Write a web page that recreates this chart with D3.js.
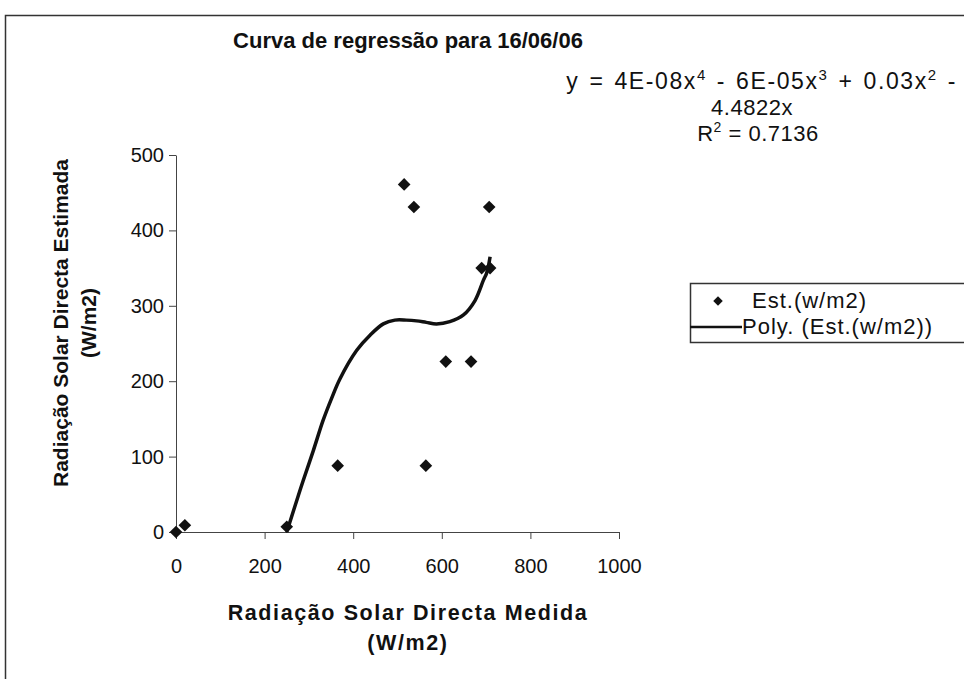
<!DOCTYPE html>
<html>
<head>
<meta charset="utf-8">
<script src="https://cdn.jsdelivr.net/npm/d3@7"></script>
<style>
  body { margin: 0; background: #fff; }
  text { font-family: "Liberation Sans", Arial, sans-serif; fill: #111; }
</style>
</head>
<body>
<div id="chart"></div>
<script>
// Curva de regressão - pontos medidos vs estimados
var medida = [0, 20, 250, 365, 515, 537, 564, 609, 666, 690, 707, 709];
var estimada = [0, 9, 7, 88, 461, 431, 88, 226, 226, 350, 431, 350];

// trendline
var polyX = [250, 257, 276, 287, 310, 332, 351, 370, 408, 438, 468, 494, 520, 543, 565, 588, 618, 649, 675, 694, 701, 705, 709];
var polyY = [0, 13, 48, 68, 108, 148, 177, 203, 241, 261, 276, 281, 281, 280, 278, 276, 279, 288, 307, 334, 343, 352, 365];

var xTicks = [0, 200, 400, 600, 800, 1000];
var yTicks = [0, 100, 200, 300, 400, 500];

var titulo = "Curva de regressão para 16/06/06";
var legendaNomes = ["Est.(w/m2)", "Poly. (Est.(w/m2))"];

var width = 964, height = 679;

var svg = d3.select("#chart")
    .append("svg")
    .attr("width", width)
    .attr("height", height);

svg.append("rect")
    .attr("x", 0).attr("y", 0)
    .attr("width", width).attr("height", height)
    .attr("fill", "#fff");

// moldura
svg.append("rect")
    .attr("x", 5.5).attr("y", 15.5)
    .attr("width", 1000).attr("height", 700)
    .attr("fill", "none")
    .attr("stroke", "#333")
    .attr("stroke-width", 1.5);

var x = d3.scaleLinear().domain([0, 1000]).range([176, 619]);
var y = d3.scaleLinear().domain([0, 500]).range([532, 155]);

var xAxis = svg.append("g")
    .attr("transform", "translate(0," + y(0) + ")")
    .call(d3.axisBottom(x).tickValues(xTicks).tickFormat(d3.format("d"))
        .tickSize(7).tickPadding(20).tickSizeOuter(0));

var yAxis = svg.append("g")
    .attr("transform", "translate(" + x(0) + ",0)")
    .call(d3.axisLeft(y).tickValues(yTicks).tickSize(7).tickPadding(5).tickSizeOuter(0));

svg.selectAll(".domain, .tick line")
    .attr("stroke", "#444")
    .attr("stroke-width", 1);
svg.selectAll(".tick text")
    .attr("font-size", "20px")
    .attr("font-family", "'Liberation Sans', Arial, sans-serif")
    .attr("fill", "#111");

// titulo
svg.append("text")
    .attr("x", 408)
    .attr("y", 48)
    .attr("font-size", "22px")
    .attr("font-weight", "bold")
    .style("text-anchor", "middle")
    .text(titulo);

// titulo eixo x
var xt = svg.append("text")
    .attr("font-size", "21.5px")
    .attr("font-weight", "bold")
    .attr("letter-spacing", "1.6px")
    .style("text-anchor", "middle");
xt.append("tspan").attr("x", 408).attr("y", 620).text("Radiação Solar Directa Medida");
xt.append("tspan").attr("x", 408).attr("y", 650).text("(W/m2)");

// titulo eixo y
var yt = svg.append("text")
    .attr("transform", "translate(68,323) rotate(-90)")
    .attr("font-size", "21px")
    .attr("font-weight", "bold")
    .style("text-anchor", "middle");
yt.append("tspan").attr("x", 0).attr("y", 0).text("Radiação Solar Directa Estimada");
yt.append("tspan").attr("x", 0).attr("y", 28).text("(W/m2)");

// equacao
var eq = svg.append("text")
    .attr("font-size", "23px")
    .attr("letter-spacing", "1.6px")
    .attr("word-spacing", "2px")
    .style("text-anchor", "end");
eq.append("tspan").attr("x", 957).attr("y", 89).text("y = 4E-08x");
eq.append("tspan").attr("dy", -9).attr("font-size", "15px").text("4");
eq.append("tspan").attr("dy", 9).text(" - 6E-05x");
eq.append("tspan").attr("dy", -9).attr("font-size", "15px").text("3");
eq.append("tspan").attr("dy", 9).text(" + 0.03x");
eq.append("tspan").attr("dy", -9).attr("font-size", "15px").text("2");
eq.append("tspan").attr("dy", 9).text(" -");

svg.append("text")
    .attr("x", 752).attr("y", 115)
    .attr("font-size", "22px")
    .attr("letter-spacing", "0.5px")
    .style("text-anchor", "middle")
    .text("4.4822x");

var r2 = svg.append("text")
    .attr("x", 758).attr("y", 141)
    .attr("font-size", "22px")
    .attr("letter-spacing", "0.5px")
    .style("text-anchor", "middle");
r2.append("tspan").text("R");
r2.append("tspan").attr("dy", -9).attr("font-size", "14px").text("2");
r2.append("tspan").attr("dy", 9).text(" = 0.7136");

// linha de tendencia
var pontosPoly = polyX.map(function (d, i) { return [d, polyY[i]]; });
var linha = d3.line()
    .x(function (d) { return x(d[0]); })
    .y(function (d) { return y(d[1]); })
    .curve(d3.curveCatmullRom);

svg.append("path")
    .datum(pontosPoly)
    .attr("d", linha)
    .attr("fill", "none")
    .attr("stroke", "#111")
    .attr("stroke-width", 3.5)
    .attr("stroke-linejoin", "round");

// pontos
var diamante = d3.symbol().type(d3.symbolSquare).size(80);
svg.append("g")
    .selectAll("path")
    .data(medida)
    .enter().append("path")
    .attr("d", diamante)
    .attr("transform", function (d, i) { return "translate(" + x(d) + "," + y(estimada[i]) + ") rotate(45)"; })
    .attr("fill", "#111");

// legenda
var leg = svg.append("g");
leg.append("rect")
    .attr("x", 690.5).attr("y", 283.5)
    .attr("width", 300).attr("height", 59)
    .attr("fill", "#fff")
    .attr("stroke", "#333")
    .attr("stroke-width", 1.5);
leg.append("path")
    .attr("d", d3.symbol().type(d3.symbolSquare).size(45))
    .attr("transform", "translate(718,301) rotate(45)")
    .attr("fill", "#111");
leg.append("line")
    .attr("x1", 690).attr("x2", 742)
    .attr("y1", 327).attr("y2", 327)
    .attr("stroke", "#111")
    .attr("stroke-width", 2.5);
leg.selectAll("text")
    .data(legendaNomes)
    .enter().append("text")
    .attr("x", function (d, i) { return i == 0 ? 752 : 742; })
    .attr("y", function (d, i) { return 308 + i * 26; })
    .attr("font-size", "22px")
    .attr("letter-spacing", "1px")
    .text(function (d) { return d; });
</script>
</body>
</html>
